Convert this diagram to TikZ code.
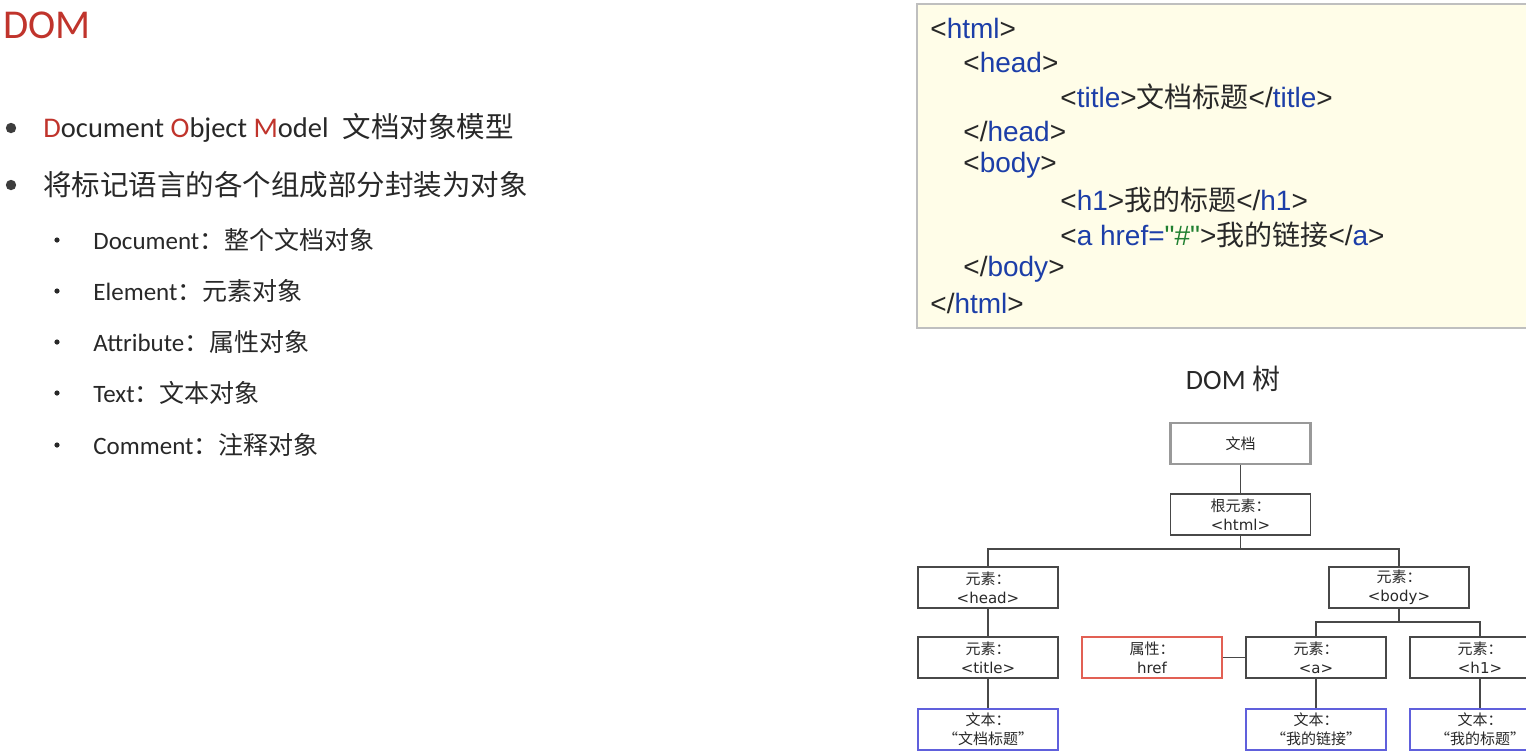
\documentclass[tikz,border=0pt]{standalone}
\usepackage{fontspec}
\setmainfont{Carlito}
\newfontfamily\cjk{Noto Sans CJK SC}
\newfontfamily\codefont{Liberation Sans}
\newfontfamily\treefont{DejaVu Sans}
\usetikzlibrary{positioning}
\definecolor{domred}{RGB}{192,52,44}
\definecolor{tagblue}{RGB}{28,62,168}
\definecolor{valgreen}{RGB}{32,128,48}
\definecolor{codebg}{RGB}{255,253,232}
\definecolor{attrred}{RGB}{226,96,84}
\definecolor{textblue}{RGB}{96,96,220}
\definecolor{ink}{RGB}{40,40,40}
\newcommand{\tg}[1]{\textcolor{tagblue}{#1}}
\newcommand{\zh}[1]{{\cjk #1}}

\begin{document}
\begin{tikzpicture}[x=0.5pt, y=-0.5pt,
  every node/.style={inner sep=0pt, text=ink},
  bigitem/.style={anchor=west, font=\fontsize{14.25}{17}\selectfont},
  subitem/.style={anchor=west, font=\fontsize{12.5}{15}\selectfont},
  codeline/.style={anchor=west, font=\codefont\fontsize{14}{17}\selectfont},
  elem/.style={draw=ink!85, line width=0.9pt, minimum width=70pt, minimum height=20.5pt,
    align=center, font=\treefont\fontsize{7.5}{9.5}\selectfont},
  attrbox/.style={elem, draw=attrred},
  textbox/.style={elem, draw=textblue},
  link/.style={draw=ink!85, line width=0.8pt}]
\useasboundingbox (0,0) rectangle (1526,752);
% ---- left: what DOM is
\node[anchor=west, text=domred, font=\fontsize{20.5}{24}\selectfont] (heading) at (3,25) {DOM};
\fill[ink!90] (11,128) circle (2.6pt) (11,185) circle (2.6pt);
\node[bigitem] (item1) at (43,128)
  {\textcolor{domred}{D}ocument \textcolor{domred}{O}bject \textcolor{domred}{M}odel\hspace{7pt}\zh{文档对象模型}};
\node[bigitem] (item2) at (43,185) {\zh{将标记语言的各个组成部分封装为对象}};
\foreach \y/\en/\cn [count=\i] in {240/Document/整个文档对象, 291/Element/元素对象,
    342/Attribute/属性对象, 393/Text/文本对象, 445/Comment/注释对象} {
  \fill[ink] (57,\y) circle (1.3pt);
  \node[subitem] (sub\i) at (93,\y) {\en\zh{：\cn}};
}
% ---- right top: the markup
\draw[draw=black!25, fill=codebg, line width=1pt] (917,4) rectangle (1540,328);
\node[codeline] (code1) at (930,28) {<\tg{html}>};
\node[codeline] (code2) at (963,62) {<\tg{head}>};
\node[codeline] (code3) at (1060,97) {<\tg{title}>\zh{文档标题}</\tg{title}>};
\node[codeline] (code4) at (963,131) {</\tg{head}>};
\node[codeline] (code5) at (963,165) {<\tg{body}>};
\node[codeline] (code6) at (1060,200) {<\tg{h1}>\zh{我的标题}</\tg{h1}>};
\node[codeline] (code7) at (1060,235)
  {<\tg{a href=}\textcolor{valgreen}{"\#"}>\zh{我的链接}</\tg{a}>};
\node[codeline] (code8) at (963,269) {</\tg{body}>};
\node[codeline] (code9) at (930,303) {</\tg{html}>};
% ---- right bottom: the tree
\node[font=\fontsize{14}{17}\selectfont] (treetitle) at (1233,379) {DOM \zh{树}};
\node[elem, draw=black!40, line width=1.3pt] (doc) at (1240.5,443.5) {\zh{文档}};
\node[elem] (root) at (1240.5,514.5) {\zh{根元素：}\\<html>};
\node[elem] (head) at (988,587.5) {\zh{元素：}\\<head>};
\node[elem] (body) at (1399,587.5) {\zh{元素：}\\<body>};
\node[elem] (title) at (988,657.5) {\zh{元素：}\\<title>};
\node[attrbox] (href) at (1152,657.5) {\zh{属性：}\\href};
\node[elem] (alink) at (1316,657.5) {\zh{元素：}\\<a>};
\node[elem] (hone) at (1480,657.5) {\zh{元素：}\\<h1>};
\node[textbox] (titletext) at (988,729.5) {\zh{文本：}\\\zh{“文档标题”}};
\node[textbox] (alinktext) at (1316,729.5) {\zh{文本：}\\\zh{“我的链接”}};
\node[textbox] (honetext) at (1480,729.5) {\zh{文本：}\\\zh{“我的标题”}};
\coordinate (split1) at (1240.5,549);
\coordinate (split2) at (1399,622);
\draw[link] (doc) -- (root);
\draw[link] (root) -- (split1) -| (head);
\draw[link] (split1) -| (body);
\draw[link] (head) -- (title);
\draw[link] (title) -- (titletext);
\draw[link] (body) -- (split2) -| (alink);
\draw[link] (split2) -| (hone);
\draw[link] (href) -- (alink);
\draw[link] (alink) -- (alinktext);
\draw[link] (hone) -- (honetext);
\end{tikzpicture}
\end{document}
